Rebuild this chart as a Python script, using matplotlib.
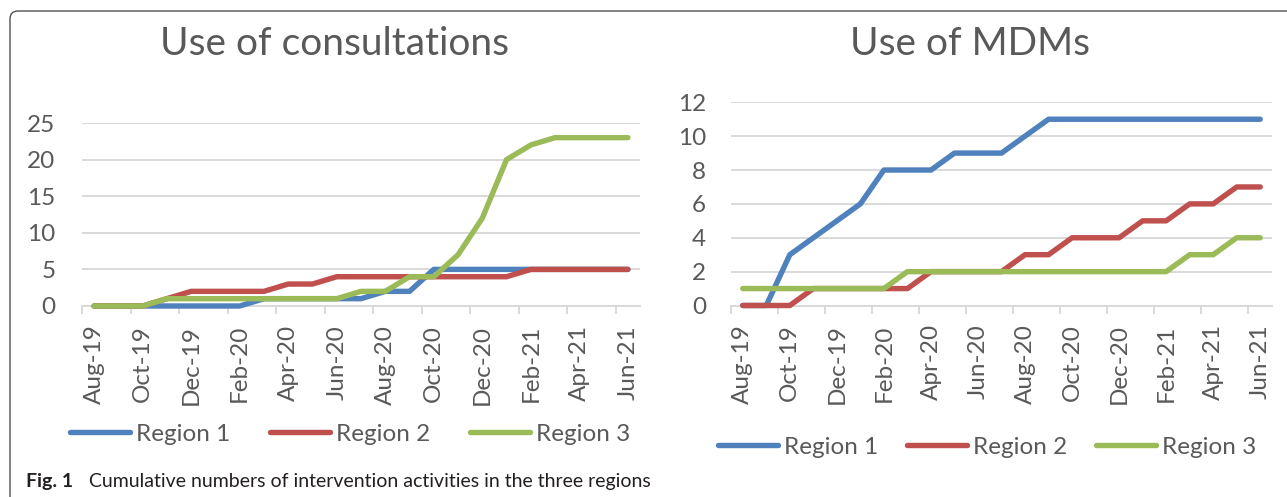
import matplotlib.pyplot as plt
from matplotlib.patches import FancyBboxPatch

plt.rcParams['font.family'] = ['Lato', 'DejaVu Sans']

# 月份（类别轴）
months = ['Aug-19', 'Sep-19', 'Oct-19', 'Nov-19', 'Dec-19', 'Jan-20', 'Feb-20',
          'Mar-20', 'Apr-20', 'May-20', 'Jun-20', 'Jul-20', 'Aug-20', 'Sep-20',
          'Oct-20', 'Nov-20', 'Dec-20', 'Jan-21', 'Feb-21', 'Mar-21', 'Apr-21',
          'May-21', 'Jun-21']
regions = ['Region 1', 'Region 2', 'Region 3']
colors = ['#4F81BD', '#C0504D', '#9BBB59']

# 咨询使用（累计）
consult_r1 = [0, 0, 0, 0, 0, 0, 0, 1, 1, 1, 1, 1, 2, 2, 5, 5, 5, 5, 5, 5, 5, 5, 5]
consult_r2 = [0, 0, 0, 1, 2, 2, 2, 2, 3, 3, 4, 4, 4, 4, 4, 4, 4, 4, 5, 5, 5, 5, 5]
consult_r3 = [0, 0, 0, 1, 1, 1, 1, 1, 1, 1, 1, 2, 2, 4, 4, 7, 12, 20, 22, 23, 23, 23, 23]

# MDM 使用（累计）
mdm_r1 = [0, 0, 3, 4, 5, 6, 8, 8, 8, 9, 9, 9, 10, 11, 11, 11, 11, 11, 11, 11, 11, 11, 11]
mdm_r2 = [0, 0, 0, 1, 1, 1, 1, 1, 2, 2, 2, 2, 3, 3, 4, 4, 4, 5, 5, 6, 6, 7, 7]
mdm_r3 = [1, 1, 1, 1, 1, 1, 1, 2, 2, 2, 2, 2, 2, 2, 2, 2, 2, 2, 2, 3, 3, 4, 4]

W, H = 1287, 497
text_grey = '#595959'
grid_grey = '#d9d9d9'
fs = 17.5


def draw_panel(ax, series, ymax, ystep, ypad):
    x = list(range(len(months)))
    for vals, name, c in zip(series, regions, colors):
        ax.plot(x, vals, color=c, lw=3.9, solid_capstyle='round',
                solid_joinstyle='round', label=name, clip_on=False, zorder=3)
    ax.set_xlim(-0.5, len(months) - 0.5)
    ax.set_ylim(0, ymax)
    ax.set_yticks(range(0, ymax + 1, ystep))
    ax.grid(axis='y', color=grid_grey, lw=1.4)
    ax.set_axisbelow(True)
    for s in ['top', 'right', 'left']:
        ax.spines[s].set_visible(False)
    ax.spines['bottom'].set_color(grid_grey)
    ax.spines['bottom'].set_linewidth(1.4)
    ax.set_xticks(x[::2])
    ax.set_xticklabels(months[::2], rotation=90)
    ax.set_xticks([i - 0.5 for i in x[::2]], minor=True)
    ax.tick_params(axis='x', which='major', length=0, pad=13.5,
                   labelsize=fs, labelcolor=text_grey)
    ax.tick_params(axis='x', which='minor', length=6, width=1.4,
                   color=grid_grey, direction='out')
    ax.tick_params(axis='y', length=0, pad=ypad, labelsize=fs, labelcolor=text_grey)


fig = plt.figure(figsize=(W / 100, H / 100), dpi=100)

ax1 = fig.add_axes([82 / W, (H - 306) / H, (640 - 82) / W, 183 / H])
draw_panel(ax1, [consult_r1, consult_r2, consult_r3], 25, 5, 19)

ax2 = fig.add_axes([731 / W, (H - 305.5) / H, (1272 - 731) / W, 203.2 / H])
draw_panel(ax2, [mdm_r1, mdm_r2, mdm_r3], 12, 2, 18)

# 标题
fig.text(335 / W, 1 - 55 / H, 'Use of consultations', ha='center', va='baseline',
         fontsize=28, color=text_grey)
fig.text(970 / W, 1 - 55 / H, 'Use of MDMs', ha='center', va='baseline',
         fontsize=28, color=text_grey)

# 图例
h, l = ax1.get_legend_handles_labels()
fig.legend(h, l, loc='center', bbox_to_anchor=(350 / W, 1 - 434 / H), ncol=3,
           frameon=False, fontsize=fs, handlelength=2.45, handletextpad=0.25,
           columnspacing=1.65, labelcolor=text_grey, borderpad=0)
h, l = ax2.get_legend_handles_labels()
fig.legend(h, l, loc='center', bbox_to_anchor=(987 / W, 1 - 447 / H), ncol=3,
           frameon=False, fontsize=fs, handlelength=2.45, handletextpad=0.25,
           columnspacing=1.2, labelcolor=text_grey, borderpad=0)

# 外框（只露出上边和左边）
frame = FancyBboxPatch((0.10, -1.0), 14.0, (H - 11) / 100 + 1.0,
                       boxstyle='round,pad=0,rounding_size=0.08',
                       transform=fig.dpi_scale_trans, fill=False,
                       edgecolor='#505050', lw=1.0)
fig.add_artist(frame)

# 图注
fig.text(26 / W, 1 - 481 / H, 'Fig. 1', fontsize=14, fontweight='bold',
         va='center', color='#231f20')
fig.text(89 / W, 1 - 481 / H,
         'Cumulative numbers of intervention activities in the three regions',
         fontsize=14, va='center', color='#231f20')

fig.savefig('out.png', dpi=100)
